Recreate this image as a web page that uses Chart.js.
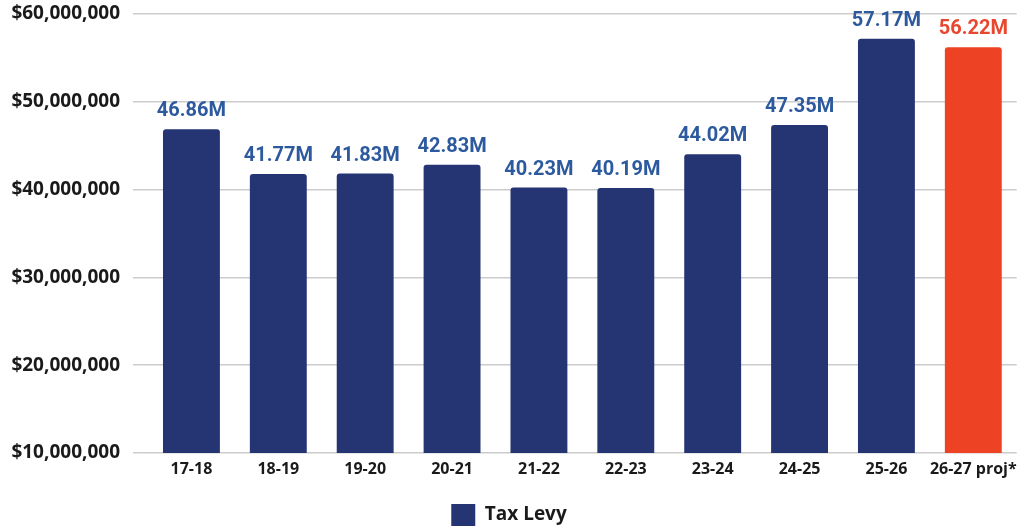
<!DOCTYPE html>
<html>
<head>
<meta charset="utf-8">
<script src="https://cdn.jsdelivr.net/npm/chart.js@4.4.0/dist/chart.umd.min.js"></script>
<style>
  html, body { margin: 0; padding: 0; background: #fff; }
  #wrap { width: 1024px; height: 529px; }
</style>
</head>
<body>
<div id="wrap"><canvas id="chart"></canvas></div>
<script>
// fiscal years
const years = ["17-18", "18-19", "19-20", "20-21", "21-22", "22-23", "23-24", "24-25", "25-26", "26-27 proj*"];
// tax levy in millions
const levyMillions = [46.86, 41.77, 41.83, 42.83, 40.23, 40.19, 44.02, 47.35, 57.17, 56.22];
const valueLabels = ["46.86M", "41.77M", "41.83M", "42.83M", "40.23M", "40.19M", "44.02M", "47.35M", "57.17M", "56.22M"];
const yTicks = [10000000, 20000000, 30000000, 40000000, 50000000, 60000000];

const levy = levyMillions.map((v) => v * 1000000);
const projIndex = years.length - 1;

const NAVY = "#253574";
const RED = "#ee4224";

// draws the "xx.xxM" labels above each bar
const barLabels = {
  id: "barLabels",
  afterDatasetsDraw(chart) {
    const ctx = chart.ctx;
    const meta = chart.getDatasetMeta(0);
    ctx.save();
    ctx.font = "bold 20px Roboto";
    ctx.textAlign = "center";
    ctx.textBaseline = "alphabetic";
    meta.data.forEach((bar, i) => {
      ctx.fillStyle = i === projIndex ? "#e8472f" : "#2d5a9e";
      ctx.fillText(valueLabels[i], bar.x, bar.y - 13);
    });
    ctx.restore();
  },
};

new Chart(document.getElementById("chart"), {
  type: "bar",
  data: {
    labels: years,
    datasets: [
      {
        label: "Tax Levy",
        data: levy,
        backgroundColor: (c) => (c.dataIndex === projIndex ? RED : NAVY),
        borderRadius: { topLeft: 3, topRight: 3 },
        borderSkipped: "bottom",
        categoryPercentage: 1,
        barPercentage: 0.655,
      },
    ],
  },
  options: {
    responsive: true,
    maintainAspectRatio: false,
    animation: false,
    layout: { padding: { top: 14, right: 6, left: 0, bottom: -7 } },
    scales: {
      x: {
        grid: { display: false, drawTicks: false },
        border: { display: false },
        ticks: {
          color: "#1a1a1a",
          font: { family: "Open Sans", size: 16, weight: "bold" },
          padding: 7,
          maxRotation: 0,
          autoSkip: false,
        },
        afterFit: (scale) => { scale.height = 49; },
      },
      y: {
        min: 10000000,
        max: 60000000,
        border: { display: false },
        grid: { color: "#cccccc", lineWidth: 1.5, tickLength: 15 },
        afterBuildTicks: (scale) => { scale.ticks = yTicks.map((v) => ({ value: v })); },
        afterFit: (scale) => {
          scale.width = 148;
          scale.paddingTop = 0;
          scale.paddingBottom = 0;
        },
        ticks: {
          color: "#1a1a1a",
          font: { family: "Open Sans", size: 19, weight: "bold" },
          padding: 13,
          callback: (v) => "$" + Number(v).toLocaleString("en-US"),
        },
      },
    },
    plugins: {
      legend: {
        position: "bottom",
        labels: {
          boxWidth: 24,
          boxHeight: 22,
          padding: 2,
          color: "#1a1a1a",
          font: { family: "Open Sans", size: 19, weight: "bold" },
        },
      },
      tooltip: { enabled: false },
    },
  },
  plugins: [barLabels],
});
</script>
</body>
</html>
